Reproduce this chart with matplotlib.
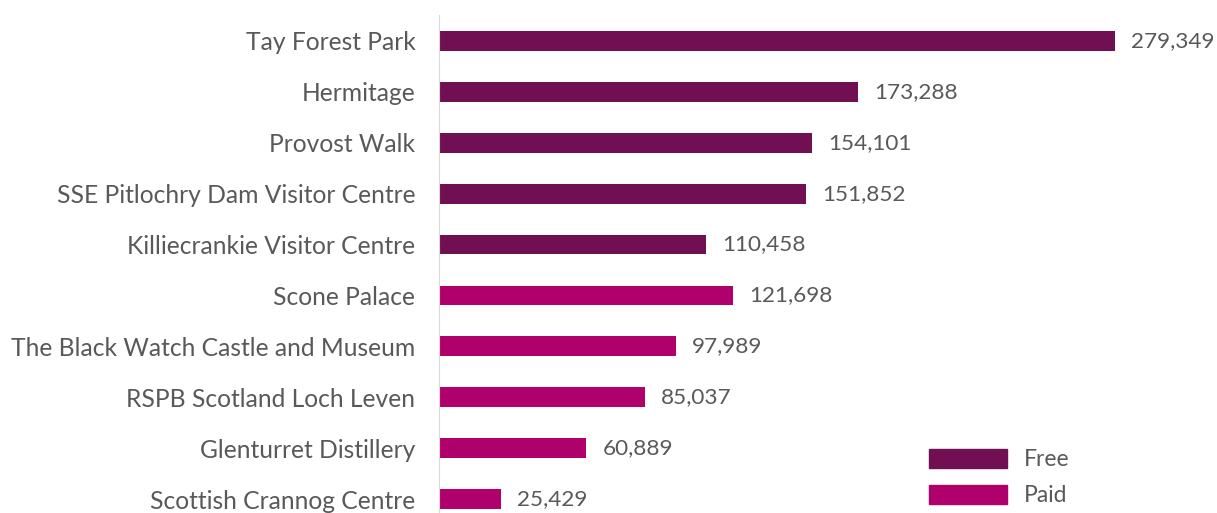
import matplotlib
matplotlib.use("Agg")
import matplotlib.pyplot as plt
from matplotlib.patches import Patch

# attractions, top to bottom
names = ["Tay Forest Park", "Hermitage", "Provost Walk", "SSE Pitlochry Dam Visitor Centre",
         "Killiecrankie Visitor Centre", "Scone Palace", "The Black Watch Castle and Museum",
         "RSPB Scotland Loch Leven", "Glenturret Distillery", "Scottish Crannog Centre"]
visitors = [279349, 173288, 154101, 151852, 110458, 121698, 97989, 85037, 60889, 25429]
kind = ["Free", "Free", "Free", "Free", "Free", "Paid", "Paid", "Paid", "Paid", "Paid"]

colours = {"Free": "#701052", "Paid": "#B0006C"}
grey = "#595959"
fs = 17.7

plt.rcParams['font.family'] = ['Lato', 'DejaVu Sans']

fig = plt.figure(figsize=(12.17, 5.13), dpi=100)
ax = fig.add_axes([439/1217, 1 - 524.5/513, (1115-439)/1217, 509/513])

ypos = list(range(len(names)))
ax.barh(ypos, visitors, height=0.39, color=[colours[k] for k in kind])
ax.set_ylim(len(names) - 0.5, -0.5)
ax.set_xlim(0, 279349)
ax.set_yticks(ypos)
ax.set_yticklabels(names, fontsize=fs, color=grey)
ax.tick_params(axis='y', length=0, pad=17)
ax.set_xticks([])
for s in ["top", "right", "bottom"]:
    ax.spines[s].set_visible(False)
ax.spines["left"].set_color("#d9d9d9")

for y, v in zip(ypos, visitors):
    ax.text(v + 6600, y, f"{v:,}", va='center', ha='left', fontsize=16.2, color=grey, clip_on=False)

handles = [Patch(color=colours["Free"], label="Free"), Patch(color=colours["Paid"], label="Paid")]
fig.legend(handles=handles, loc='upper left', bbox_to_anchor=(929/1217, 1 - 449/513),
           frameon=False, fontsize=16.5, labelcolor=grey, handlelength=3.4, handleheight=0.87,
           handletextpad=0.75, labelspacing=0.65, borderpad=0, borderaxespad=0)

fig.savefig("out.png", dpi=100)
